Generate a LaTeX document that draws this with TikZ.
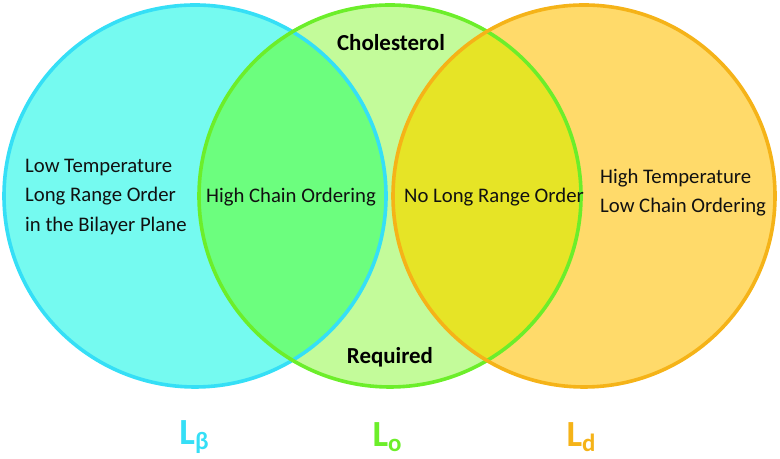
\documentclass[tikz,border=0pt]{standalone}
\usepackage{fontspec}
\setmainfont{Carlito}
\usepackage{xcolor}
\usepackage{tikz}
\definecolor{gelline}{HTML}{35DFF6}
\definecolor{gelfill}{HTML}{75FAF0}
\definecolor{loline}{HTML}{6CEE2A}
\definecolor{lofill}{HTML}{C3FB9A}
\definecolor{ldline}{HTML}{F5B318}
\definecolor{ldfill}{HTML}{FFDA6A}
\definecolor{gellofill}{HTML}{6CFE7E}
\definecolor{loldfill}{HTML}{E6E426}
\definecolor{textcolor}{HTML}{111111}

\tikzset{
    desc/.style={inner sep=0pt, text=textcolor, font=\fontsize{20.8}{30}\selectfont},
    req/.style={inner sep=0pt, text=black, font=\fontsize{23}{26}\selectfont\bfseries},
    phase/.style={inner sep=0pt, font=\fontsize{37}{40}\selectfont\bfseries}
}

\newcommand{\phasesub}[1]{L\raisebox{-5bp}{\fontsize{25}{25}\selectfont #1}}

\begin{document}
\begin{tikzpicture}[x=1bp,y=1bp]
    \useasboundingbox (0,0) rectangle (780,459);
    % Circle centres
    \coordinate (gel) at (195,263);
    \coordinate (lo) at (390,263);
    \coordinate (ld) at (584,263);

    % Fills
    \fill[gelfill] (gel) circle (191bp);
    \fill[lofill] (lo) circle (191bp);
    \fill[ldfill] (ld) circle (191bp);
    \begin{scope}
      \clip (gel) circle (191bp);
      \fill[gellofill] (lo) circle (191bp);
    \end{scope}
    \begin{scope}
      \clip (ld) circle (191bp);
      \fill[loldfill] (lo) circle (191bp);
    \end{scope}

    % Outlines
    \draw[gelline, line width=3.6bp] (gel) circle (191bp);
    \draw[loline, line width=3.6bp] (lo) circle (191bp);
    \draw[ldline, line width=3.6bp] (ld) circle (191bp);

    % Region texts
    \node[desc, anchor=west, align=left] (gelprops) at (25,262) {Low Temperature\\Long Range Order\\in the Bilayer Plane};
    \node[desc] (gellotext) at (291,262) {High Chain Ordering};
    \node[desc] (loldtext) at (494,262) {No Long Range Order};
    \node[desc, anchor=west, align=left, font=\fontsize{20.8}{29}\selectfont] (ldprops) at (600,266) {High Temperature\\Low Chain Ordering};
    \node[req] (chol) at (391,416) {Cholesterol};
    \node[req] (required) at (390,102) {Required};

    % Phase names
    \node[phase, text=gelline] (gelname) at (194,22) {\phasesub{β}};
    \node[phase, text=loline] (loname) at (387,22) {\phasesub{o}};
    \node[phase, text=ldline] (ldname) at (581,22) {\phasesub{d}};
\end{tikzpicture}
\end{document}
